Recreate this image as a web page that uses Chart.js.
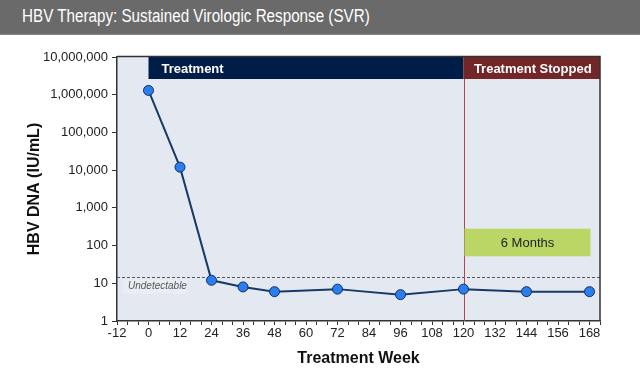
<!DOCTYPE html>
<html>
<head>
<meta charset="utf-8">
<script src="https://cdn.jsdelivr.net/npm/chart.js@4/dist/chart.umd.min.js"></script>
<style>
  html, body { margin:0; padding:0; background:#fff; width:640px; height:382px; overflow:hidden; }
  #wrap { position:relative; width:640px; height:382px; }
  #bar { position:absolute; left:0; top:0; width:640px; height:34px; background:#6a6a6a; border-bottom:1px solid #8a8a8a; z-index:2; }
  #bar span { position:absolute; left:22px; top:6px; color:#fff; font-family:"Liberation Sans", Arial, sans-serif; font-size:18px; white-space:nowrap; transform:scaleX(0.845); transform-origin:left center; }
  canvas { position:absolute; left:0; top:0; }
</style>
</head>
<body>
<div id="wrap">
  <div id="bar"><span>HBV Therapy: Sustained Virologic Response (SVR)</span></div>
  <canvas id="c" width="640" height="382"></canvas>
</div>
<script>
// ---- data ----
const weeks = [0, 12, 24, 36, 48, 72, 96, 120, 144, 168];
const hbvDna = [1300000, 12000, 12, 8, 6, 7, 5, 7, 6, 6];
const yTickValues = [1, 10, 100, 1000, 10000, 100000, 1000000, 10000000];
const xMin = -12, xMax = 172, xLabelStep = 12, xMinorStep = 4;
const phaseLabels = ['Treatment', 'Treatment Stopped'];
const phaseStarts = [0, 120];
const phaseEnds = [120, 172];
const stopWeek = 120;
const undetectableLimit = 15;
const undetectableLabel = 'Undetectable';
const followUpLabel = '6 Months';
const followUpRange = [120, 168];
const followUpLevels = [52, 280];

const FONT = '"Liberation Sans", Arial, sans-serif';

const decor = {
  id: 'decor',
  beforeDraw(chart) {
    const {ctx, chartArea: a} = chart;
    ctx.save();
    ctx.fillStyle = '#e4e9f1';
    ctx.fillRect(a.left, a.top, a.right - a.left, a.bottom - a.top);
    ctx.restore();
  },
  beforeDatasetsDraw(chart) {
    const {ctx, chartArea: a, scales: {x, y}} = chart;
    ctx.save();
    // undetectable line
    const yu = Math.round(y.getPixelForValue(undetectableLimit)) + 0.5;
    ctx.fillStyle = '#eaeef4';
    ctx.fillRect(a.left + 6, yu + 2, 64, 14);
    ctx.strokeStyle = '#555';
    ctx.lineWidth = 1;
    ctx.setLineDash([3, 2]);
    ctx.beginPath(); ctx.moveTo(a.left, yu); ctx.lineTo(a.right, yu); ctx.stroke();
    ctx.setLineDash([]);
    ctx.fillStyle = '#555';
    ctx.font = 'italic 10px ' + FONT;
    ctx.textBaseline = 'middle';
    ctx.textAlign = 'left';
    ctx.fillText(undetectableLabel, a.left + 11, yu + 9);

    // vertical stop line
    const xs = Math.round(x.getPixelForValue(stopWeek)) + 0.5;
    ctx.strokeStyle = '#b0474c';
    ctx.lineWidth = 1;
    ctx.beginPath(); ctx.moveTo(xs, a.top); ctx.lineTo(xs, a.bottom); ctx.stroke();

    // phase bars
    const colors = ['#001d48', '#722628'];
    const barH = 22;
    phaseLabels.forEach((lab, i) => {
      const x0 = x.getPixelForValue(phaseStarts[i]);
      const x1 = x.getPixelForValue(phaseEnds[i]);
      ctx.fillStyle = colors[i];
      ctx.fillRect(x0, a.top, x1 - x0, barH);
      ctx.fillStyle = '#fff';
      ctx.font = 'bold 13px ' + FONT;
      ctx.textBaseline = 'middle';
      if (i === 0) { ctx.textAlign = 'left'; ctx.fillText(lab, x0 + 13, a.top + barH / 2 + 1); }
      else { ctx.textAlign = 'center'; ctx.fillText(lab, (x0 + x1) / 2 + 1, a.top + barH / 2 + 1); }
    });

    // follow-up box
    const bx0 = x.getPixelForValue(followUpRange[0]);
    const bx1 = x.getPixelForValue(followUpRange[1]);
    const by0 = y.getPixelForValue(followUpLevels[1]);
    const by1 = y.getPixelForValue(followUpLevels[0]);
    ctx.fillStyle = '#bad765';
    ctx.fillRect(bx0 + 1, by0, bx1 - bx0, by1 - by0);
    ctx.fillStyle = '#222';
    ctx.font = '13px ' + FONT;
    ctx.textAlign = 'center';
    ctx.textBaseline = 'middle';
    ctx.fillText(followUpLabel, (bx0 + bx1) / 2 + 1, (by0 + by1) / 2 + 1);
    ctx.restore();
  },
  afterDatasetsDraw(chart) {
    const {ctx, chartArea: a} = chart;
    ctx.save();
    ctx.strokeStyle = '#333';
    ctx.lineWidth = 1.5;
    ctx.beginPath();
    ctx.moveTo(a.left, a.top - 0.5); ctx.lineTo(a.right, a.top - 0.5); ctx.lineTo(a.right, a.bottom);
    ctx.stroke();
    ctx.restore();
  }
};

new Chart(document.getElementById('c'), {
  type: 'line',
  data: {
    datasets: [{
      data: weeks.map((w, i) => ({x: w, y: hbvDna[i]})),
      borderColor: '#173a66',
      borderWidth: 2,
      pointRadius: 5,
      pointBackgroundColor: '#2b7ef0',
      pointBorderColor: '#123066',
      pointBorderWidth: 1,
      tension: 0,
      clip: false
    }]
  },
  options: {
    responsive: false,
    animation: false,
    devicePixelRatio: 1,
    layout: { padding: { left: 0, right: 40, top: 57, bottom: 0 } },
    plugins: { legend: { display: false }, title: { display: false }, tooltip: { enabled: false } },
    scales: {
      x: {
        type: 'linear',
        min: xMin, max: xMax,
        afterFit(s) { s.height = 61; },
        ticks: {
          stepSize: xMinorStep,
          autoSkip: false,
          maxRotation: 0,
          padding: 1,
          color: '#222',
          font: { family: FONT, size: 13 },
          callback: (v) => ((v - xMin) % xLabelStep === 0 && v <= 168) ? String(v) : ''
        },
        grid: { display: true, drawOnChartArea: false, drawTicks: true, tickLength: 4, color: '#333', lineWidth: 1 },
        border: { display: true, color: '#333', width: 1.5 },
        title: {
          display: true, text: 'Treatment Week', color: '#111',
          font: { family: FONT, size: 16, weight: 'bold' },
          padding: { top: 0, bottom: 14 }
        }
      },
      y: {
        type: 'logarithmic',
        min: 1, max: 10000000,
        afterFit(s) { s.width = 117; },
        afterBuildTicks(s) { s.ticks = yTickValues.map(v => ({value: v})); },
        ticks: {
          autoSkip: false,
          padding: 4,
          color: '#222',
          font: { family: FONT, size: 13 },
          callback: (v) => Number(v).toLocaleString('en-US')
        },
        grid: { display: true, drawOnChartArea: false, drawTicks: true, tickLength: 5, color: '#333', lineWidth: 1 },
        border: { display: true, color: '#333', width: 1.5 },
        title: {
          display: true, text: 'HBV DNA (IU/mL)', color: '#111',
          font: { family: FONT, size: 16, weight: 'bold' },
          padding: { top: 25, bottom: 0 }
        }
      }
    }
  },
  plugins: [decor]
});
</script>
</body>
</html>
